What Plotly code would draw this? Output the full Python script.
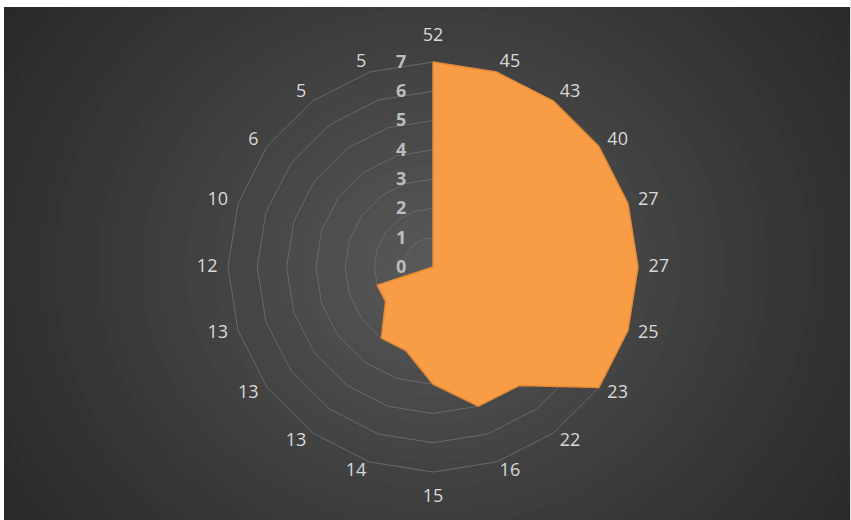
import plotly.graph_objects as go

# Category labels around the radar (clockwise from the top) and their values
labels = ["52", "45", "43", "40", "27", "27", "25", "23", "22", "16",
          "15", "14", "13", "13", "13", "12", "10", "6", "5", "5"]
values = [7, 7, 7, 7, 7, 7, 7, 7, 5, 5, 4, 3, 3, 2, 2, 0, 0, 0, 0, 0]
radial_ticks = [0, 1, 2, 3, 4, 5, 6, 7]
r_top = 7.0            # radius of the outer ring
r_range = 7.9          # radial range leaves room for the captions
caption_r = 7.36       # captions hang just outside the outer ring
caption_r_pole = 7.58  # captions straight above / below sit a little further out

W, H = 851, 520
CX, CY, R7 = 433, 267, 205  # polar centre and radius of the "7" ring in pixels
R_OUT = R7 * r_range / r_top

n = len(labels)
# unique keys so repeated labels keep their own spoke
keys = [f"k{i}" for i in range(n)]


def caption_layout(i):
    """Radius and side of the anchor for the caption on spoke i."""
    ang = 360.0 * i / n
    if ang == 0:
        return caption_r_pole, "top center"
    if ang == 180:
        return caption_r_pole, "bottom center"
    return caption_r, ("middle right" if ang < 180 else "middle left")


cap_r = [caption_layout(i)[0] for i in range(n)]
cap_pos = [caption_layout(i)[1] for i in range(n)]

fig = go.Figure()

# chart area: white border strip on top/left, dark panel with a soft radial glow
shapes = [dict(type="rect", xref="paper", yref="paper", x0=4 / W, x1=1, y0=0, y1=1 - 7 / H,
               fillcolor="#262626", line_width=0, layer="below")]
n_bands = 40
for b in range(n_bands):
    d = 520 * (1 - b / n_bands)
    t = max(0.0, 1 - d / 520)
    g = int(round(38 + 52 * t ** 1.2))
    rx, ry = d * 1.12, d
    shapes.append(dict(
        type="circle", xref="paper", yref="paper",
        x0=(CX - rx) / W, x1=(CX + rx) / W,
        y0=1 - (CY + ry) / H, y1=1 - (CY - ry) / H,
        fillcolor=f"rgb({g},{g},{g})", line_width=0, layer="below"))
# repaint the white strips over the glow
shapes.append(dict(type="rect", xref="paper", yref="paper", x0=0, x1=1, y0=1 - 7 / H, y1=1.01,
                   fillcolor="white", line_width=0, layer="below"))
shapes.append(dict(type="rect", xref="paper", yref="paper", x0=-0.01, x1=4 / W, y0=0, y1=1,
                   fillcolor="white", line_width=0, layer="below"))
shapes.append(dict(type="rect", xref="paper", yref="paper", x0=1 - 1 / W, x1=1.01, y0=0, y1=1,
                   fillcolor="#e8e8e8", line_width=0, layer="below"))

fig.add_trace(go.Scatterpolar(
    r=values + [values[0]],
    theta=keys + [keys[0]],
    mode="lines",
    fill="toself",
    fillcolor="#F89C45",
    line=dict(color="#E48A35", width=1.5),
    hoverinfo="skip",
    showlegend=False,
))

# category captions around the ring
fig.add_trace(go.Scatterpolar(
    r=cap_r,
    theta=keys,
    mode="text",
    text=labels,
    textposition=cap_pos,
    textfont=dict(family="Open Sans", size=18, color="#d9d9d9"),
    cliponaxis=False,
    hoverinfo="skip",
    showlegend=False,
))

fig.update_layout(
    width=W, height=H,
    margin=dict(l=0, r=0, t=0, b=0),
    paper_bgcolor="white",
    shapes=shapes,
    showlegend=False,
    polar=dict(
        domain=dict(x=[(CX - R_OUT) / W, (CX + R_OUT) / W],
                    y=[1 - (CY + R_OUT) / H, 1 - (CY - R_OUT) / H]),
        bgcolor="rgba(0,0,0,0)",
        gridshape="linear",
        angularaxis=dict(
            type="category",
            categoryorder="array",
            categoryarray=keys,
            direction="clockwise",
            rotation=90,
            showgrid=False,
            showline=False,
            ticks="",
            showticklabels=False,
        ),
        radialaxis=dict(
            range=[0, r_range],
            tickmode="array",
            tickvals=radial_ticks,
            angle=90,
            tickangle=90,
            side="counterclockwise",
            showline=False,
            showgrid=True,
            gridcolor="#696969",
            gridwidth=1,
            ticks="outside",
            ticklen=20,
            tickcolor="rgba(0,0,0,0)",
            tickfont=dict(family="Open Sans", size=18, color="#bdbdbd", weight="bold"),
            layer="below traces",
        ),
    ),
)

fig.write_html("out.html")
